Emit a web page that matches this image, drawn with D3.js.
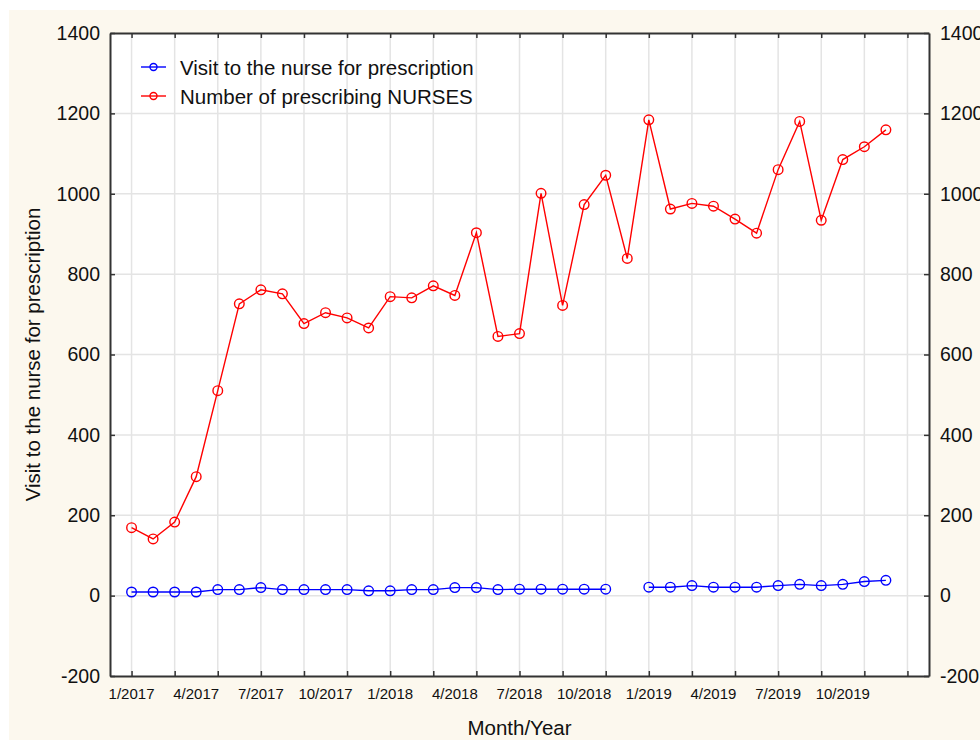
<!DOCTYPE html>
<html>
<head>
<meta charset="utf-8">
<script src="https://cdn.jsdelivr.net/npm/d3@7"></script>
<style>
  html, body { margin: 0; padding: 0; background: #ffffff; }
  svg { display: block; }
  text { font-family: "Liberation Sans", Arial, sans-serif; fill: #111; }
</style>
</head>
<body>
<svg id="chart" width="980" height="740"></svg>
<script>
// ---- data ----
const months = ["1/2017","2/2017","3/2017","4/2017","5/2017","6/2017","7/2017","8/2017","9/2017","10/2017","11/2017","12/2017",
                "1/2018","2/2018","3/2018","4/2018","5/2018","6/2018","7/2018","8/2018","9/2018","10/2018","11/2018","12/2018",
                "1/2019","2/2019","3/2019","4/2019","5/2019","6/2019","7/2019","8/2019","9/2019","10/2019","11/2019","12/2019"];
const visits = [9,9,9,9,15,15,20,15,15,15,15,12,
                12,15,15,20,20,15,16,16,16,16,16,null,
                21,21,25,21,21,21,25,28,25,28,35,38];
const nurses = [169,141,183,296,510,726,761,751,677,704,691,666,
                744,741,771,747,903,645,652,1001,722,973,1046,839,
                1184,962,976,969,937,902,1060,1180,934,1085,1117,1159];
const seriesNames = ["Visit to the nurse for prescription", "Number of prescribing NURSES"];
const yTicks = [-200,0,200,400,600,800,1000,1200,1400];
const xLabelPositions = [1,4,7,10,13,16,19,22,25,28,31,34];
const xGridPositions = [1,3,5,7,9,11,13,15,17,19,21,23,25,27,29,31,33,35,37];

// ---- layout ----
const svg = d3.select("#chart");
const L = 110, R = 929, T = 33, B = 676;
const x = d3.scaleLinear().domain([0, 38]).range([L, R]);
const y = d3.scaleLinear().domain([-200, 1400]).range([B, T]);

// background
svg.append("rect").attr("x", 9).attr("y", 10).attr("width", 971).attr("height", 730).attr("fill", "#fcf8ee");
svg.append("rect").attr("x", L).attr("y", T).attr("width", R - L).attr("height", B - T).attr("fill", "#ffffff");

// grid
const grid = svg.append("g").attr("stroke", "#e4e4e4").attr("stroke-width", 1.5);
grid.selectAll("line.v").data(xGridPositions).join("line")
  .attr("x1", d => x(d)).attr("x2", d => x(d)).attr("y1", T).attr("y2", B);
grid.selectAll("line.h").data(yTicks.slice(1, -1)).join("line")
  .attr("x1", L).attr("x2", R).attr("y1", d => y(d)).attr("y2", d => y(d));

// axes
const axisColor = "#333";
const fmt = d => String(d);
const leftAxis = svg.append("g").attr("transform", `translate(${L},0)`)
  .call(d3.axisLeft(y).tickValues(yTicks).tickFormat(fmt).tickSizeInner(-5).tickSizeOuter(0).tickPadding(10));
const rightAxis = svg.append("g").attr("transform", `translate(${R},0)`)
  .call(d3.axisRight(y).tickValues(yTicks).tickFormat(fmt).tickSizeInner(-5).tickSizeOuter(0).tickPadding(11));
const bottomAxis = svg.append("g").attr("transform", `translate(0,${B})`)
  .call(d3.axisBottom(x).tickValues(xGridPositions).tickSizeInner(-5).tickSizeOuter(0).tickFormat(() => ""));
const topAxis = svg.append("g").attr("transform", `translate(0,${T})`)
  .call(d3.axisTop(x).tickValues(xGridPositions).tickSizeInner(-5).tickSizeOuter(0).tickFormat(() => ""));

[leftAxis, rightAxis, bottomAxis, topAxis].forEach(g => {
  g.select(".domain").attr("stroke", axisColor).attr("stroke-width", 2);
  g.selectAll(".tick line").attr("stroke", axisColor).attr("stroke-width", 1.5);
});
[leftAxis, rightAxis].forEach(g => {
  g.selectAll(".tick text").attr("font-size", 19.5).attr("fill", "#111")
    .attr("font-family", "'Liberation Sans', Arial, sans-serif");
});

// x tick labels every 3 months
const xl = svg.append("g");
xl.selectAll("text").data(xLabelPositions).join("text")
  .attr("x", d => x(d)).attr("y", B + 23)
  .attr("text-anchor", "middle").attr("font-size", 15)
  .text(d => months[d - 1]);

// axis titles
svg.append("text").attr("x", (L + R) / 2).attr("y", 735)
  .attr("text-anchor", "middle").attr("font-size", 20.5).text("Month/Year");
svg.append("text").attr("transform", `translate(40,${(T + B) / 2}) rotate(-90)`)
  .attr("text-anchor", "middle").attr("font-size", 20.5).text(seriesNames[0]);

// series
const series = [
  { name: seriesNames[0], values: visits, color: "#0000ff" },
  { name: seriesNames[1], values: nurses, color: "#ff0000" }
];
const line = d3.line().defined(d => d.v !== null).x(d => x(d.i)).y(d => y(d.v));
series.forEach(s => {
  const pts = s.values.map((v, k) => ({ i: k + 1, v }));
  const g = svg.append("g");
  g.append("path").datum(pts).attr("d", line)
    .attr("fill", "none").attr("stroke", s.color).attr("stroke-width", 1.4);
  g.selectAll("circle").data(pts.filter(p => p.v !== null)).join("circle")
    .attr("cx", p => x(p.i)).attr("cy", p => y(p.v)).attr("r", 4.8)
    .attr("fill", "none").attr("stroke", s.color).attr("stroke-width", 1.4);
});

// legend
const lg = svg.append("g");
series.forEach((s, k) => {
  const yy = 67 + k * 29;
  lg.append("line").attr("x1", 141).attr("x2", 166).attr("y1", yy).attr("y2", yy)
    .attr("stroke", s.color).attr("stroke-width", 1.4);
  lg.append("circle").attr("cx", 153.5).attr("cy", yy).attr("r", 3.5)
    .attr("fill", "none").attr("stroke", s.color).attr("stroke-width", 1.4);
  lg.append("text").attr("x", 180).attr("y", yy + 8).attr("font-size", 20.5).text(s.name);
});
</script>
</body>
</html>
